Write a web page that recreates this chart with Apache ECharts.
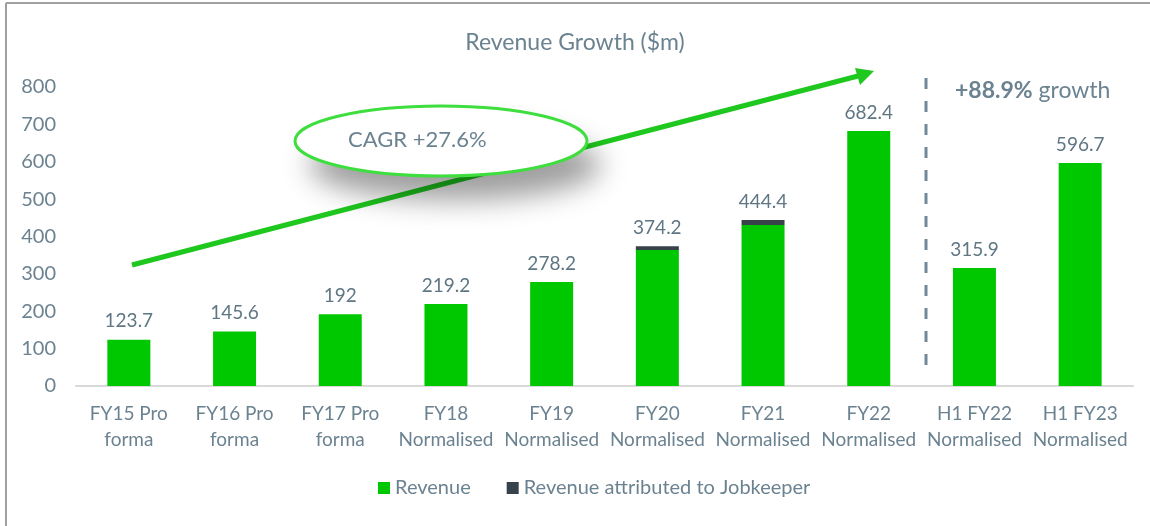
<!DOCTYPE html>
<html>
<head>
<meta charset="utf-8">
<title>Revenue Growth</title>
<script src="https://cdn.jsdelivr.net/npm/echarts@6/dist/echarts.min.js"></script>
<style>
    html, body { margin:0; padding:0; background:#fff; }
    #chart { width:1150px; height:526px; }
</style>
</head>
<body>
<div id="chart"></div>
<script>
/* 数据 */
var categories = ['FY15 Pro\nforma', 'FY16 Pro\nforma', 'FY17 Pro\nforma', 'FY18\nNormalised', 'FY19\nNormalised',
    'FY20\nNormalised', 'FY21\nNormalised', 'FY22\nNormalised', 'H1 FY22\nNormalised', 'H1 FY23\nNormalised'];
var revenue = [123.7, 145.6, 192, 219.2, 278.2, 364.2, 431.0, 682.4, 315.9, 596.7];
var jobkeeper = [0, 0, 0, 0, 0, 10.0, 13.4, 0, 0, 0];
var yTicks = [0, 100, 200, 300, 400, 500, 600, 700, 800];

(function(win){
    var textColor = '#6b8290';
    var font = 'Lato';

    var totals = [];
    for(var i=0,len=revenue.length;i<len;i++){
        totals.push(Math.round((revenue[i] + jobkeeper[i]) * 10) / 10);
    }

    var chart = echarts.init(document.getElementById('chart'));
    var option = {
        animation: false,
        textStyle: { fontFamily: font },
        title: {
            text: 'Revenue Growth ($m)',
            left: 'center',
            top: 26,
            textStyle: { color: textColor, fontSize: 23, fontWeight: 'normal', fontFamily: font }
        },
        legend: {
            bottom: 23,
            left: 373,
            itemWidth: 12,
            itemHeight: 12,
            itemGap: 36,
            icon: 'rect',
            textStyle: { color: textColor, fontSize: 20, fontFamily: font },
            data: ['Revenue', 'Revenue attributed to Jobkeeper']
        },
        grid: { left: 76, right: 17, top: 87, bottom: 140 },
        xAxis: {
            type: 'category',
            data: categories,
            axisLine: { lineStyle: { color: '#d9d9d9', width: 2 } },
            axisTick: { show: false },
            axisLabel: { color: textColor, fontSize: 19, lineHeight: 26, margin: 15, fontFamily: font, interval: 0 }
        },
        yAxis: {
            type: 'value',
            min: yTicks[0],
            max: yTicks[yTicks.length - 1],
            interval: 100,
            axisLine: { show: false },
            axisTick: { show: false },
            splitLine: { show: false },
            axisLabel: { color: textColor, fontSize: 20, margin: 20, fontFamily: font }
        },
        series: [
            {
                name: 'Revenue',
                type: 'bar',
                stack: 'rev',
                barWidth: 43,
                itemStyle: { color: '#00c800' },
                data: revenue
            },
            {
                name: 'Revenue attributed to Jobkeeper',
                type: 'bar',
                stack: 'rev',
                barWidth: 43,
                itemStyle: { color: '#37424a' },
                label: {
                    show: true,
                    position: 'top',
                    distance: 9,
                    color: '#5f7683',
                    fontSize: 19,
                    fontFamily: font,
                    formatter: function(p){ return String(totals[p.dataIndex]); }
                },
                data: jobkeeper
            }
        ],
        graphic: [
            // 外框
            { type: 'line', shape: { x1: 6, y1: 3, x2: 6, y2: 526 }, style: { stroke: '#a0a0a0', lineWidth: 2 } },
            { type: 'line', shape: { x1: 6, y1: 3, x2: 1150, y2: 3 }, style: { stroke: '#a0a0a0', lineWidth: 2 } },
            // CAGR 箭头
            { type: 'line', z: 5, shape: { x1: 132, y1: 265, x2: 858, y2: 76 },
              style: { stroke: '#1ec81e', lineWidth: 5 } },
            { type: 'polygon', z: 5, shape: { points: [[874, 71], [855, 68], [860, 85]] },
              style: { fill: '#1ec81e' } },
            // 阴影 + 椭圆
            { type: 'ellipse', z: 6, shape: { cx: 441, cy: 141, rx: 146, ry: 35 },
              style: { fill: '#ffffff',
                       shadowBlur: 28, shadowOffsetX: 14, shadowOffsetY: 24, shadowColor: 'rgba(0,0,0,0.38)' } },
            { type: 'ellipse', z: 6, shape: { cx: 441, cy: 141, rx: 146, ry: 35 },
              style: { fill: '#ffffff', stroke: '#3ede3e', lineWidth: 3 } },
            { type: 'text', z: 7, left: 348, top: 129,
              style: { text: 'CAGR +27.6%', fill: textColor, fontSize: 22, fontFamily: font } },
            // 分隔线
            { type: 'line', z: 5, shape: { x1: 926, y1: 78, x2: 926, y2: 376 },
              style: { stroke: '#71899a', lineWidth: 3, lineDash: [11, 12] } },
            { type: 'text', z: 7, left: 955, top: 79,
              style: {
                  text: '{b|+88.9%} growth',
                  fill: textColor, fontSize: 23, fontFamily: font,
                  rich: { b: { fontWeight: 'bold', fontSize: 23, fill: textColor, fontFamily: font } }
              } }
        ]
    };
    chart.setOption(option);
    win.addEventListener('resize', function(){ chart.resize(); });
})(window);
</script>
</body>
</html>
